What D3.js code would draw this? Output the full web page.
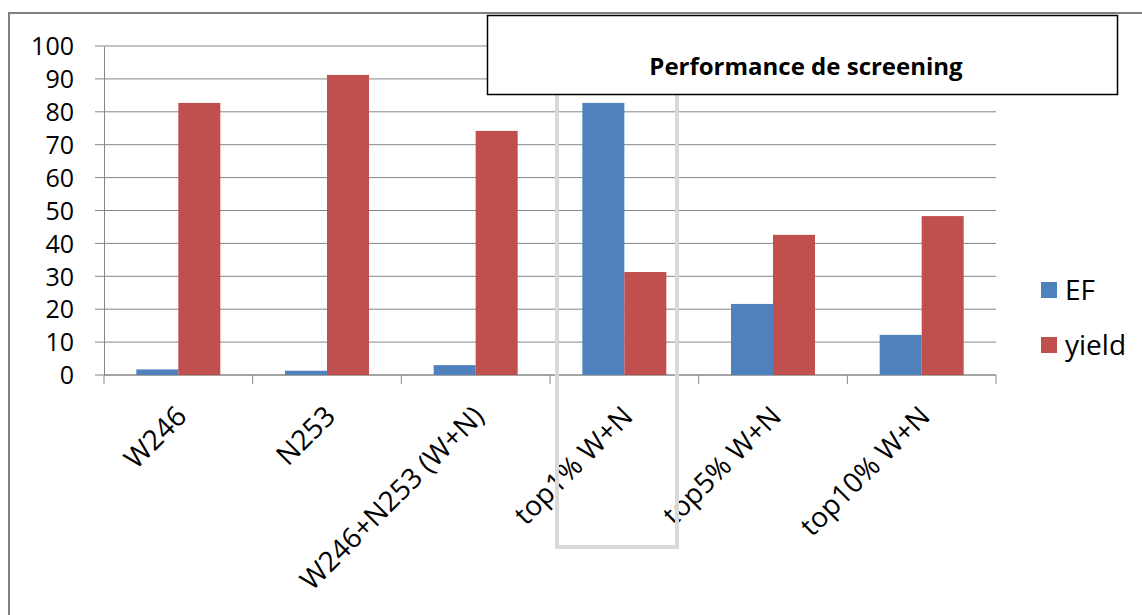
<!DOCTYPE html>
<html>
<head>
    <meta charset="utf-8" />
    <title>Performance de screening</title>
    <script src="https://cdn.jsdelivr.net/npm/d3@7"></script>
    <style>
        body { margin: 0; background: #fff; }
        svg text { font-family: "Open Sans", "Noto Sans", sans-serif; fill: #000; }
    </style>
</head>
<body>
    <div id="chart"></div>
    <script>
        var categories = ["W246", "N253", "W246+N253 (W+N)", "top1% W+N", "top5% W+N", "top10% W+N"];
        var seriesNames = ["EF", "yield"];
        var efValues = [1.7, 1.3, 3.0, 82.7, 21.6, 12.2];
        var yieldValues = [82.7, 91.2, 74.2, 31.3, 42.6, 48.3];
        var yTicks = [0, 10, 20, 30, 40, 50, 60, 70, 80, 90, 100];
        var colors = ["#4f81bd", "#c0504d"];

        var width = 1142;
        var height = 615;
        var plotLeft = 104, plotRight = 996, plotTop = 46, plotBottom = 375;

        var svg = d3.select("#chart")
            .append("svg")
            .attr("width", width)
            .attr("height", height);

        // outer frame (only top and left visible)
        svg.append("path")
            .attr("d", "M9,615 L9,13 L1142,13")
            .attr("fill", "none")
            .attr("stroke", "#808080")
            .attr("stroke-width", 2);

        var x = d3.scaleBand().domain(categories).range([plotLeft, plotRight]);
        var xs = d3.scaleBand().domain(seriesNames).range([0, x.bandwidth()])
            .paddingOuter(0.77).paddingInner(0);
        var y = d3.scaleLinear().domain([0, 100]).range([plotBottom, plotTop]);

        // gridlines
        svg.append("g").selectAll("line")
            .data(yTicks)
            .enter()
            .append("line")
            .attr("x1", plotLeft - 9)
            .attr("x2", plotRight)
            .attr("y1", function (d) { return y(d); })
            .attr("y2", function (d) { return y(d); })
            .attr("stroke", "#868686")
            .attr("stroke-width", 1);

        // y axis
        var yAxis = d3.axisLeft(y).tickValues(yTicks).tickSize(0).tickPadding(30);
        var gy = svg.append("g")
            .attr("transform", "translate(" + plotLeft + ",0)")
            .call(yAxis);
        gy.select(".domain").attr("stroke", "#868686");
        gy.selectAll("text")
            .style("font-size", "25px")
            .attr("dy", "0.35em");

        // x axis
        var gx = svg.append("g")
            .attr("transform", "translate(0," + plotBottom + ")");
        gx.append("line")
            .attr("x1", plotLeft).attr("x2", plotRight)
            .attr("stroke", "#868686");
        gx.selectAll(".tick")
            .data(categories.concat(["end"]))
            .enter()
            .append("line")
            .attr("x1", function (d, i) { return plotLeft + i * x.step(); })
            .attr("x2", function (d, i) { return plotLeft + i * x.step(); })
            .attr("y1", 0).attr("y2", 9)
            .attr("stroke", "#868686");
        gx.selectAll("text")
            .data(categories)
            .enter()
            .append("text")
            .attr("text-anchor", "end")
            .style("font-size", "28px")
            .attr("transform", function (d) {
                return "translate(" + (x(d) + x.bandwidth() / 2 + 10) + ",43) rotate(-45)";
            })
            .text(function (d) { return d; });

        // bars
        var groups = svg.append("g").selectAll("g")
            .data(categories)
            .enter()
            .append("g")
            .attr("transform", function (d) { return "translate(" + x(d) + ",0)"; });

        groups.selectAll("rect")
            .data(function (d, i) {
                return [
                    { key: "EF", value: efValues[i] },
                    { key: "yield", value: yieldValues[i] }
                ];
            })
            .enter()
            .append("rect")
            .attr("x", function (d) { return xs(d.key); })
            .attr("width", xs.bandwidth())
            .attr("y", function (d) { return y(d.value); })
            .attr("height", function (d) { return plotBottom - y(d.value); })
            .attr("fill", function (d, i) { return colors[i]; });

        // highlight box around top1%
        svg.append("rect")
            .attr("x", x("top1% W+N") + 7)
            .attr("y", 88)
            .attr("width", 120)
            .attr("height", 459)
            .attr("fill", "none")
            .attr("stroke", "#d9d9d9")
            .attr("stroke-width", 4);

        // title box
        svg.append("rect")
            .attr("x", 487.5)
            .attr("y", 15.5)
            .attr("width", 630)
            .attr("height", 79)
            .attr("fill", "#fff")
            .attr("stroke", "#000")
            .attr("stroke-width", 1.5);
        svg.append("text")
            .attr("x", 806)
            .attr("y", 75)
            .attr("text-anchor", "middle")
            .style("font-size", "24px")
            .style("font-weight", "bold")
            .text("Performance de screening");

        // legend
        var legend = svg.selectAll(".legend")
            .data(seriesNames)
            .enter()
            .append("g")
            .attr("class", "legend")
            .attr("transform", function (d, i) {
                return "translate(1041," + (282 + i * 55) + ")";
            });
        legend.append("rect")
            .attr("width", 16)
            .attr("height", 16)
            .attr("fill", function (d, i) { return colors[i]; });
        legend.append("text")
            .attr("x", 24)
            .attr("y", 8)
            .attr("dy", "0.35em")
            .style("font-size", "28px")
            .text(function (d) { return d; });
    </script>
</body>
</html>
